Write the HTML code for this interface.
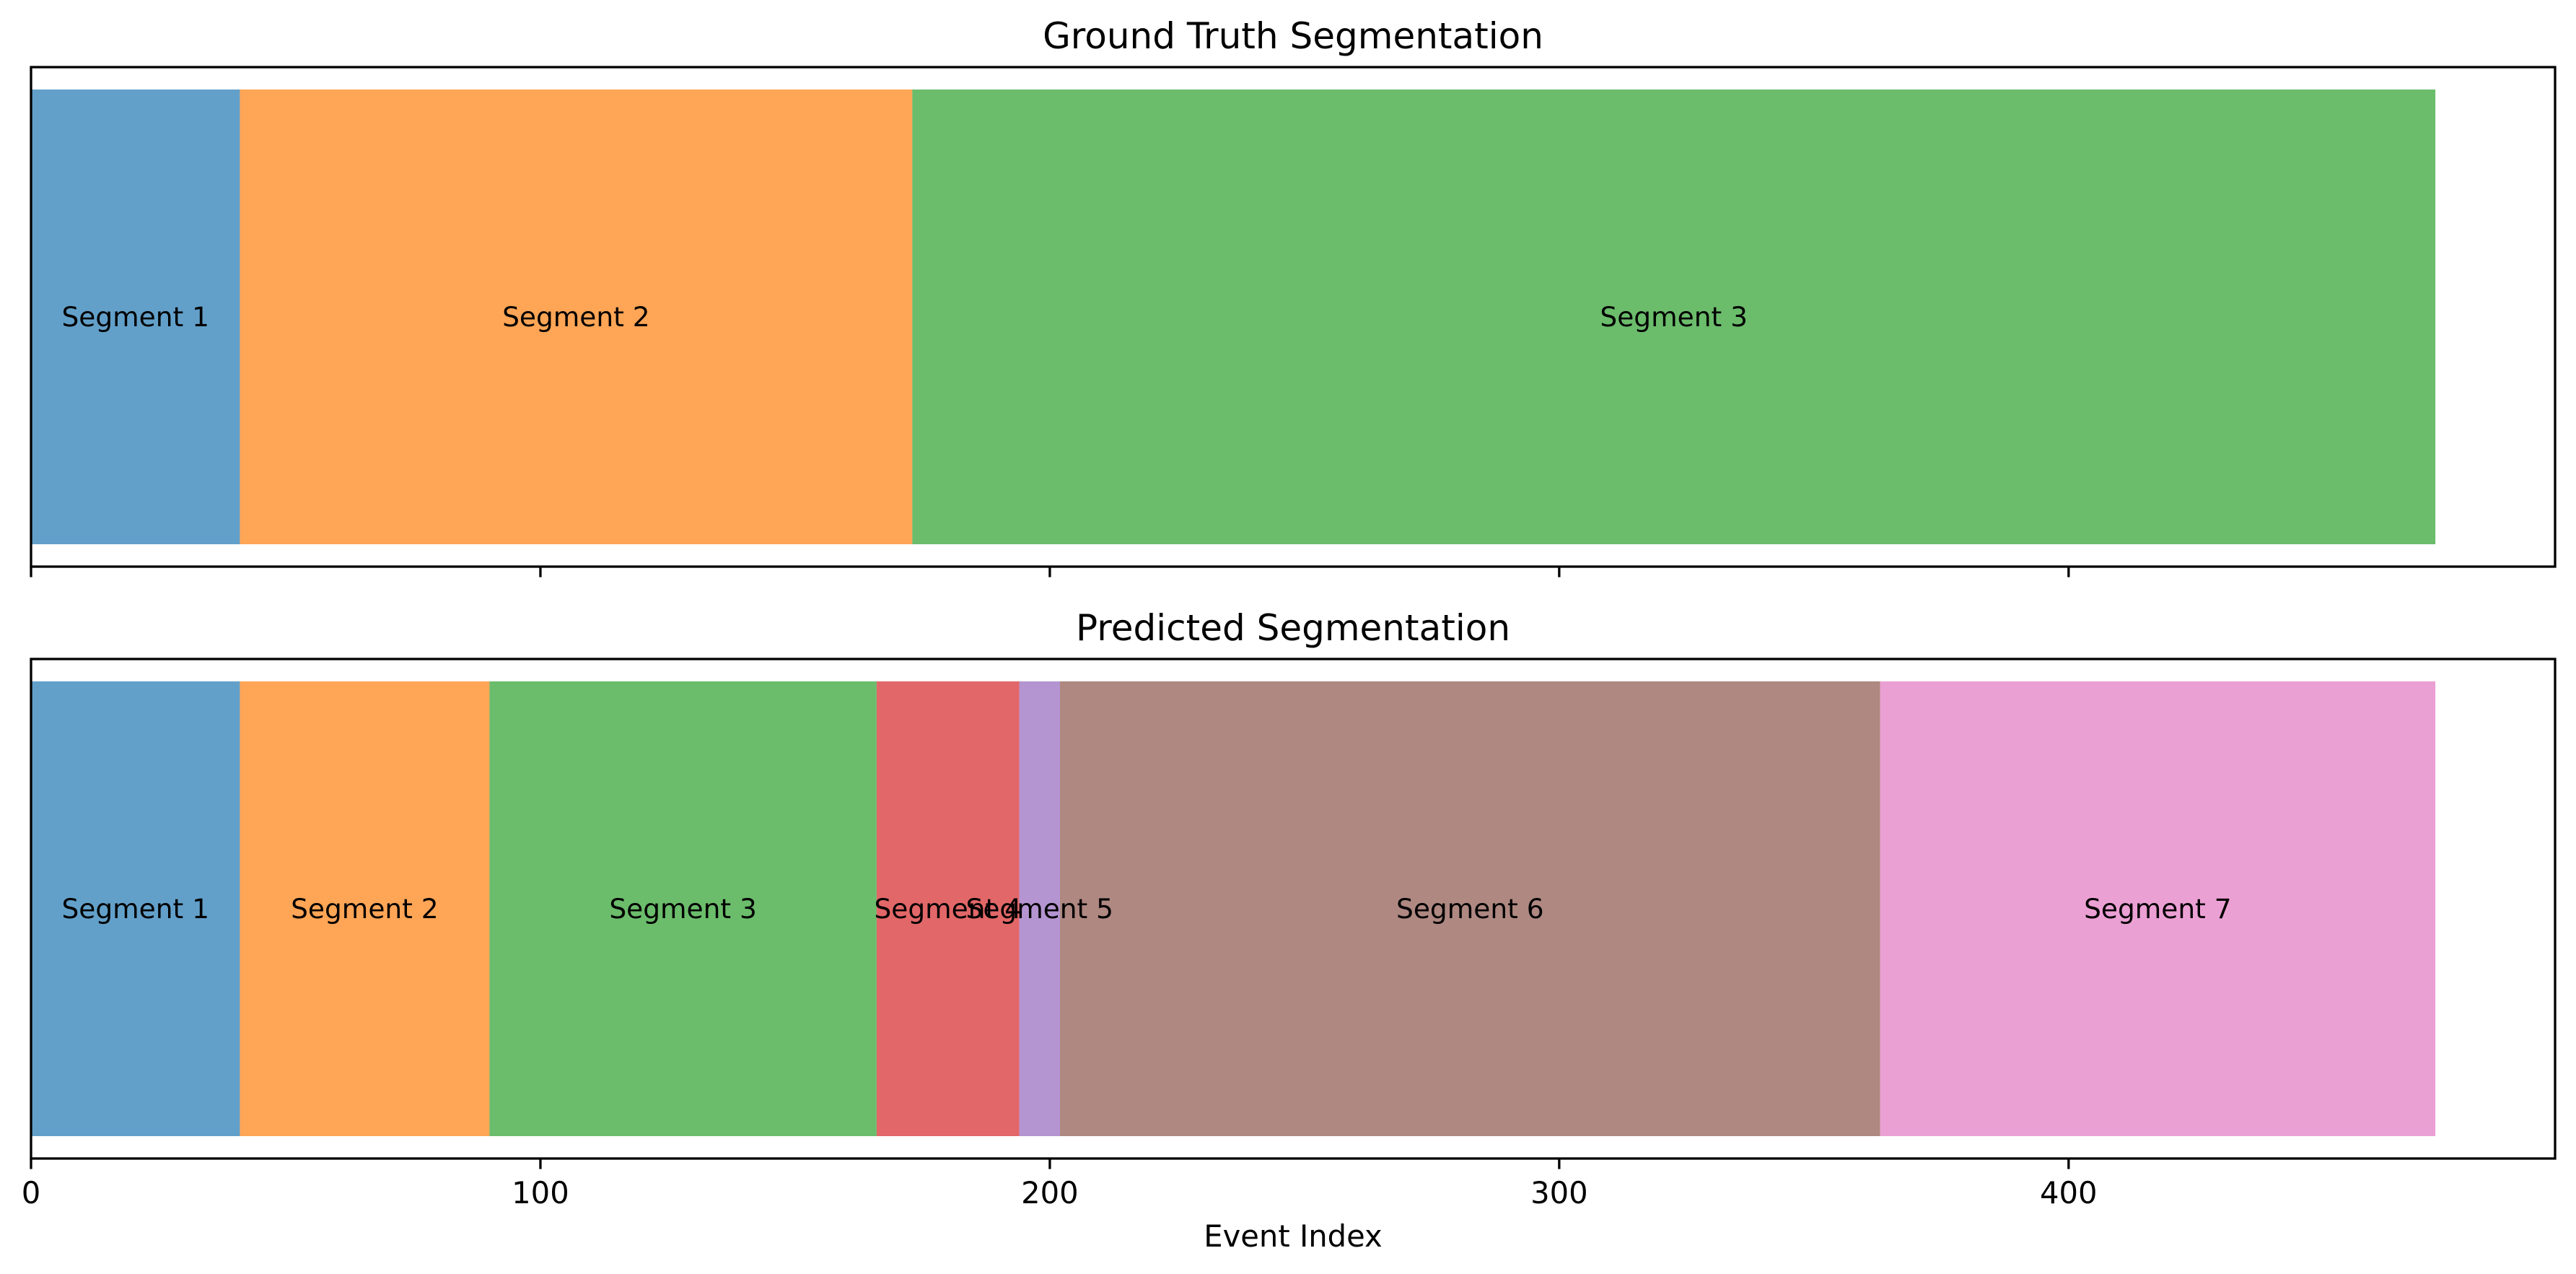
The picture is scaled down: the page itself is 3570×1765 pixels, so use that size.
<!DOCTYPE html>
<html><head><meta charset="utf-8"><style>
html,body{margin:0;padding:0;background:#fff;}
svg{display:block;font-family:"DejaVu Sans","Liberation Sans",sans-serif;}
</style></head><body>
<svg id="chart" width="3570" height="1765" viewBox="0 0 3570 1765" xmlns="http://www.w3.org/2000/svg">
<g id="top"></g>
<g id="bot"></g>
</svg>
<script>
const gtBounds = [0, 41, 173, 472];
const predBounds = [0, 41, 90, 166, 194, 202, 363, 472];
const xTicks = [0, 100, 200, 300, 400];
const xTickLabels = ["0", "100", "200", "300", "400"];
const colors = ["#1f77b4","#ff7f0e","#2ca02c","#d62728","#9467bd","#8c564b","#e377c2"];
const XMIN = 0, XMAX = 495.5;
const L = 43, R = 3541;
function xs(v){ return L + (v - XMIN) / (XMAX - XMIN) * (R - L); }
const NS = "http://www.w3.org/2000/svg";
function mk(tag, attrs, parent){
  const e = document.createElementNS(NS, tag);
  for (const k in attrs) e.setAttribute(k, attrs[k]);
  parent.appendChild(e); return e;
}
function panel(g, bounds, top, title, showLabels, prefix){
  const h = 692, bt = top + 31, bh = 630;
  const t = mk("text", {x:(L+R)/2, y:top-26, "font-size":50, "text-anchor":"middle", fill:"#000"}, g);
  t.textContent = title;
  
  
  for (let i = 0; i < bounds.length - 1; i++){
    const x0 = xs(bounds[i]), x1 = xs(bounds[i+1]);
    const r = mk("rect", {x:x0, y:bt, width:x1-x0, height:bh, fill:colors[i%colors.length], "fill-opacity":0.7}, g);
    
    
  }
  for (let i = 0; i < bounds.length - 1; i++){
    const x0 = xs(bounds[i]), x1 = xs(bounds[i+1]);
    const lb = mk("text", {x:(x0+x1)/2, y:bt+bh/2+13, "font-size":37.5, "text-anchor":"middle", fill:"#000"}, g);
    lb.textContent = "Segment " + (i+1);
    
    
  }
  const fr = mk("rect", {x:L, y:top, width:R-L, height:h, fill:"none", stroke:"#000", "stroke-width":3.3}, g);
  
  
  xTicks.forEach((v, i) => {
    const tk = mk("line", {x1:xs(v), x2:xs(v), y1:top+h, y2:top+h+14.6, stroke:"#000", "stroke-width":3.3}, g);
    
    
    if (showLabels){
      const tl = mk("text", {x:xs(v), y:top+h+62, "font-size":41.7, "text-anchor":"middle", fill:"#000"}, g);
      tl.textContent = xTickLabels[i];
      
      
    }
  });
}
panel(document.getElementById("top"), gtBounds, 93, "Ground Truth Segmentation", false, "gt");
panel(document.getElementById("bot"), predBounds, 913, "Predicted Segmentation", true, "pred");
const xl = mk("text", {x:(L+R)/2, y:1727, "font-size":41.7, "text-anchor":"middle", fill:"#000"}, document.getElementById("chart"));
xl.textContent = "Event Index";


</script>
</body></html>
